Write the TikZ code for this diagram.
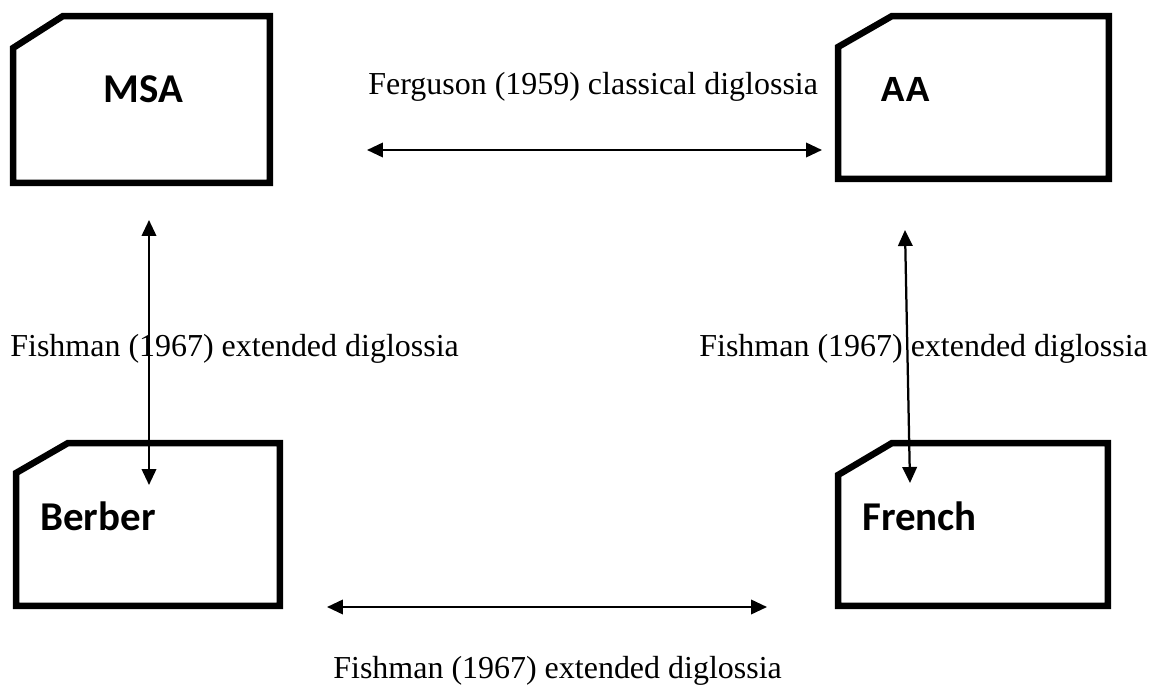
\documentclass[tikz,border=0pt]{standalone}
\usepackage{fontspec}
\setmainfont{Liberation Serif}
\newfontfamily\calfont{Carlito}
\newfontfamily\arifont{Liberation Sans}
\usetikzlibrary{arrows.meta}

% outline of a box with its top left corner cut off
\newcommand\cutbox[3]{%
  \draw [boxline] ([yshift=-#3]#1.north west) -- ([xshift=#2]#1.north west)
    -- (#1.north east) -- (#1.south east) -- (#1.south west) -- cycle;}

\begin{document}
\begin{tikzpicture}[%
    x=0.02cm, y=-0.02cm,                     % one unit = one pixel of the sketch
    >={Triangle[length=3.2mm, width=2.9mm]}, % Solid heads on both ends
    ]
% -------------------------------------------------
% Styles for the language boxes and the labels
\tikzset{
  langbox/.style={rectangle, inner sep=0pt, outer sep=0pt},
  boxline/.style={draw, line width=0.13cm, line join=miter},
  boxlabel/.style={anchor=base west, inner sep=0pt,
    font=\calfont\bfseries\fontsize{23.3}{28}\selectfont},
  notelabel/.style={anchor=base west, inner sep=0pt,
    font=\fontsize{18.2}{22}\selectfont},
  link/.style={<->, line width=0.045cm},
}
\useasboundingbox (0,0) rectangle (1154,686);
% -------------------------------------------------
% The four boxes
\node [langbox, minimum width=5.14cm, minimum height=3.34cm] (msabox) at (141.5,99.5) {};
\node [langbox, minimum width=5.42cm, minimum height=3.26cm] (aabox) at (973.5,97.5) {};
\node [langbox, minimum width=5.28cm, minimum height=3.26cm] (berberbox) at (148,524.5) {};
\node [langbox, minimum width=5.4cm, minimum height=3.26cm] (frenchbox) at (973,524.5) {};

\cutbox{msabox}{1cm}{0.64cm}
\cutbox{aabox}{1.08cm}{0.62cm}
\cutbox{berberbox}{1.04cm}{0.6cm}
\cutbox{frenchbox}{1.08cm}{0.64cm}

% Box names
\node [boxlabel] (msa) at (103,103) {MSA};
\node [boxlabel, font=\arifont\bfseries\fontsize{19.9}{24}\selectfont]
  (aa) at (880,102) {AA};
\node [boxlabel] (berber) at (40,530) {Berber};
\node [boxlabel] (french) at (862,530) {French};

% Relation labels
\node [notelabel] (ferguson) at (368,95) {Ferguson (1959) classical diglossia};
\node [notelabel] (fishmanw) at (10,357) {Fishman (1967) extended diglossia};
\node [notelabel] (fishmane) at (699,357) {Fishman (1967) extended diglossia};
\node [notelabel] (fishmans) at (333,678) {Fishman (1967) extended diglossia};

% -------------------------------------------------
% Arrow ends
\coordinate (topl) at (367,150);
\coordinate (topr) at (822,150);
\coordinate (leftt) at (149,220);
\coordinate (leftb) at (149,485);
\coordinate (rightt) at (905,230);
\coordinate (rightb) at (910,483);
\coordinate (botl) at (327,607);
\coordinate (botr) at (767,607);

\draw [link] (topl) -- (topr);
\draw [link] (leftt) -- (leftb);
\draw [link] (rightt) -- (rightb);
\draw [link] (botl) -- (botr);
% -------------------------------------------------
\end{tikzpicture}
\end{document}
